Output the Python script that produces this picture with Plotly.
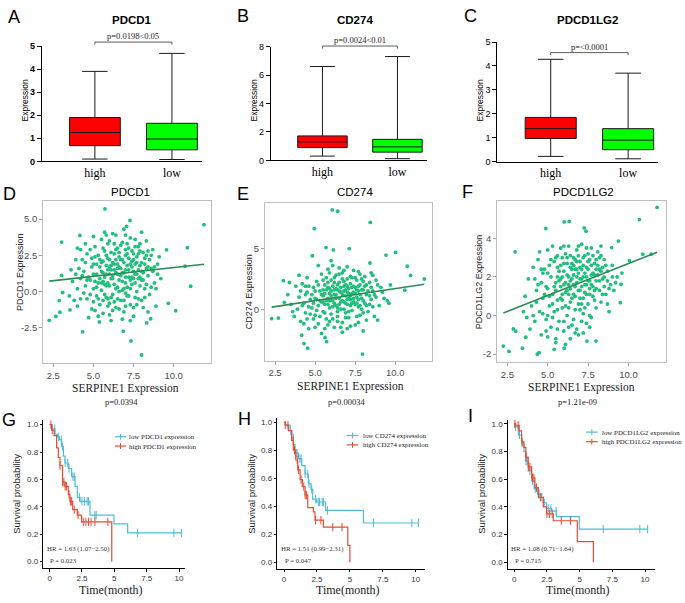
import numpy as np
import plotly.graph_objects as go

W, H = 685, 603
SANS = "Liberation Sans, Arial, sans-serif"
SERIF = "Liberation Serif, Times New Roman, serif"

# ---------------- data: box plots (A-C) ----------------
box_genes = ["PDCD1", "CD274", "PDCD1LG2"]
box_groups = ["high", "low"]
box_min = [[0.10, 0.08], [0.30, 0.12], [0.22, 0.12]]
box_q1 = [[0.68, 0.50], [0.90, 0.58], [0.97, 0.50]]
box_med = [[1.25, 0.97], [1.30, 0.95], [1.38, 0.90]]
box_q3 = [[1.90, 1.65], [1.72, 1.48], [1.85, 1.38]]
box_max = [[3.90, 4.68], [6.60, 7.30], [4.28, 3.70]]
box_pvals = ["p=0.0198<0.05", "p=0.0024<0.01", "p=<0.0001"]
box_ymax = [5, 8, 5]
box_yticks = [[0, 1, 2, 3, 4, 5], [0, 2, 4, 6, 8], [0, 1, 2, 3, 4, 5]]
bracket_y = [5.17, 8.04, 4.56]

# ---------------- data: scatter (D-F) ----------------
scatter_genes = ["PDCD1", "CD274", "PDCD1LG2"]
scatter_p = ["p=0.0394", "p=0.00034", "p=1.21e-09"]
d_points = [
    (5.72, 5.70), (11.89, 4.62), (7.28, 4.91), (7.07, 4.50), (3.02, 3.42), (4.16, 3.87), (2.25, -1.98),
    (2.66, -1.71), (2.91, -1.42), (8.00, -4.37), (7.34, -3.40), (6.86, -2.73), (4.33, -2.77), (5.37, -2.09),
    (10.85, 3.03), (11.06, 0.37), (10.13, -1.32), (9.67, -0.81), (9.56, 2.88), (10.71, 1.75), (3.02, 1.11),
    (3.08, -0.06), (2.87, -0.62), (3.54, -1.26), (8.32, -2.16), (8.57, -1.87),
    (4.1, 1.6), (4.3, 2.2), (4.5, 0.4), (4.6, -0.5), (4.7, 1.0), (4.8, 2.9), (4.9, -1.2), (5.0, 0.2), (5.0, 1.9),
    (5.1, 3.1), (5.2, -0.3), (5.2, 1.2), (5.3, 2.5), (5.3, 0.6), (5.4, -0.9), (5.4, 1.7), (5.5, 3.6), (5.5, 0.1),
    (5.6, 2.1), (5.6, -1.5), (5.7, 1.0), (5.7, 2.8), (5.8, 0.4), (5.8, -0.4), (5.9, 1.5), (5.9, 3.3), (6.0, 2.2),
    (6.0, -0.8), (6.1, 0.9), (6.1, 1.8), (6.2, 4.0), (6.2, -0.2), (6.3, 2.6), (6.3, 0.5), (6.4, 1.3), (6.4, -1.1),
    (6.5, 3.0), (6.5, 1.9), (6.6, 0.0), (6.6, 2.4), (6.7, -0.6), (6.7, 1.1), (6.8, 3.4), (6.8, 0.7), (6.9, 2.0),
    (6.9, -1.4), (7.0, 1.5), (7.0, 2.9), (7.1, 0.3), (7.1, -0.3), (7.2, 2.3), (7.2, 1.0), (7.3, 3.7), (7.3, -0.9),
    (7.4, 1.7), (7.4, 0.5), (7.5, 2.6), (7.5, -1.7), (7.6, 1.2), (7.6, 3.1), (7.7, 0.0), (7.7, 2.0), (7.8, -0.5),
    (7.8, 1.5), (7.9, 2.8), (8.0, 0.8), (8.0, 4.1), (8.1, -1.1), (8.2, 1.9), (8.2, 0.2), (8.3, 2.5), (8.4, 1.1),
    (8.5, -0.2), (8.6, 1.6), (8.7, 2.9), (8.8, 0.6), (8.9, -1.0), (9.0, 1.9), (9.1, 2.4), (9.2, 0.9),
    (3.5, -0.3), (3.6, 1.5), (3.7, 0.7), (3.8, -0.6), (3.9, 2.2), (4.0, 0.2), (4.0, -1.0), (4.2, 0.9), (4.2, 2.9),
    (4.4, -0.1), (4.4, 1.4), (4.6, 2.6), (4.7, -1.8), (4.8, 0.8), (4.9, 1.7), (5.0, -0.7), (5.1, 2.4), (5.2, 0.3),
    (5.4, 0.9), (5.5, 2.0), (5.6, 1.3), (5.7, -0.2), (5.8, 2.5), (5.9, 0.6), (6.0, 1.2), (6.0, 3.5), (6.1, -0.4),
    (6.2, 2.0), (6.3, 1.5), (6.4, 2.9), (6.5, 0.3), (6.5, -0.5), (6.6, 1.7), (6.7, 2.2), (6.8, 1.3), (6.9, 0.2),
    (7.0, 2.5), (7.0, -0.1), (7.1, 1.8), (7.2, 3.0), (7.3, 0.8), (7.4, 2.1), (7.5, 1.4), (7.6, -0.4), (7.7, 2.4),
    (7.8, 0.9), (7.9, 1.8), (8.0, -0.6), (8.1, 2.7), (8.3, 0.5), (8.4, -1.4), (8.5, 2.2), (8.7, 1.4), (8.9, 0.2),
    (6.2, -1.3), (5.3, -1.7), (6.8, -1.9), (7.3, -2.0), (5.9, -1.0), (6.4, 3.9), (6.9, 4.3), (5.7, 4.1), (5.0, 3.8),
    (4.5, 3.3), (8.3, 3.5), (7.6, 3.6),
    (5.5, 1.4), (5.6, 0.7), (5.8, 1.2), (5.9, 2.3), (6.0, 0.4), (6.1, 1.5), (6.2, 0.9), (6.3, 1.9), (6.4, 0.2),
    (6.5, 1.2), (6.6, 2.7), (6.7, 1.6), (6.8, 0.1), (6.9, 1.3), (7.0, 0.6), (7.1, 2.6), (7.2, 1.5), (7.3, 0.2),
    (7.4, 1.0), (7.5, 2.2), (7.6, 0.6), (7.7, 1.2), (7.8, 2.6), (7.9, 0.4), (8.0, 1.4), (8.1, 0.8), (8.2, 2.3),
    (8.3, 1.6), (8.4, 2.8), (8.6, 0.3), (4.3, 1.1), (4.5, 2.0), (4.6, 0.8), (4.8, -0.2), (4.9, 2.3), (5.0, 1.2),
    (5.1, 0.7), (5.2, 1.9), (5.3, -0.5), (5.4, 2.2), (5.5, 0.6), (5.6, 3.0), (5.7, 0.5), (5.8, 1.8), (5.9, -0.5),
    (6.0, 1.7), (6.1, 2.7), (6.2, 1.1), (6.3, -0.7), (6.4, 2.2), (6.5, 1.6), (6.6, 0.8), (6.7, 3.2), (6.8, 2.2),
    (6.9, -0.6), (7.0, 1.0), (7.1, 3.3), (7.2, -0.3), (7.3, 1.9), (7.4, 2.8), (7.5, 0.9), (7.6, 1.9), (7.7, -0.9),
    (7.8, 3.1), (7.9, 1.0), (8.0, 2.0), (8.1, 1.3), (8.2, -0.4), (8.4, 1.7), (8.6, 2.5), (8.8, 1.7), (9.0, 1.2),
    (5.1, -1.3), (5.6, -0.6), (6.0, -1.6), (6.6, -1.2), (7.0, -1.0), (7.5, -1.1), (4.2, -0.5), (3.9, 1.2),
    (4.0, 3.0), (6.3, 3.3), (7.0, 3.9), (7.9, 3.3), (6.1, -2.0), (5.8, 3.9),
]
e_points = [
    (6.07, 8.19), (6.41, 8.08), (8.44, 7.16), (4.95, 6.65), (10.02, 4.68), (9.42, 4.46), (10.75, 3.54),
    (11.81, 2.49), (10.96, 2.78), (7.96, -3.70), (4.54, -3.22), (4.31, -2.84), (4.16, -2.14), (5.72, -2.68),
    (5.62, -2.35), (2.29, -0.78), (2.71, -0.73), (3.02, 2.35), (3.08, 0.57), (4.83, 4.41), (5.68, 5.08),
    (6.14, 4.89), (7.13, 5.00), (10.60, 1.57), (9.60, 0.49), (8.42, 3.81),
    (3.3, 1.2), (3.5, 0.4), (3.7, -0.6), (3.8, 1.9), (3.9, 0.0), (4.0, 1.0), (4.1, -1.0), (4.2, 2.1), (4.3, 0.5),
    (4.4, -0.3), (4.5, 1.4), (4.5, 2.6), (4.6, -1.6), (4.7, 0.8), (4.8, 0.1), (4.9, 1.8), (5.0, -0.5), (5.0, 0.9),
    (5.1, 2.3), (5.2, 0.3), (5.2, -1.2), (5.3, 1.5), (5.4, 0.6), (5.4, 2.9), (5.5, -0.2), (5.5, 1.1), (5.6, 2.0),
    (5.6, 0.4), (5.7, -0.8), (5.7, 1.6), (5.8, 0.9), (5.8, 3.3), (5.9, 0.1), (5.9, 1.3), (6.0, 2.4), (6.0, -0.4),
    (6.1, 0.7), (6.1, 1.9), (6.2, -1.5), (6.2, 1.2), (6.3, 2.8), (6.3, 0.3), (6.4, 1.6), (6.4, -0.6), (6.5, 0.9),
    (6.5, 2.2), (6.6, 0.0), (6.6, 1.4), (6.7, 3.0), (6.7, -1.1), (6.8, 0.6), (6.8, 1.9), (6.9, -0.3), (6.9, 1.1),
    (7.0, 2.5), (7.0, 0.4), (7.1, 1.7), (7.1, -0.7), (7.2, 0.8), (7.2, 2.1), (7.3, -0.1), (7.3, 1.3), (7.4, 3.2),
    (7.4, 0.6), (7.5, 1.8), (7.5, -1.3), (7.6, 1.0), (7.6, 2.4), (7.7, 0.2), (7.7, 1.5), (7.8, -0.5), (7.8, 2.0),
    (7.9, 0.9), (8.0, 1.6), (8.0, -1.8), (8.1, 2.7), (8.1, 0.5), (8.2, 1.2), (8.3, -0.2), (8.4, 2.2), (8.5, 0.8),
    (8.6, 1.5), (8.7, -0.6), (8.8, 1.0), (8.9, 2.0), (9.0, 0.3), (9.2, 1.4), (9.5, 0.7), (9.7, 2.0),
    (4.0, 2.8), (4.3, -1.2), (4.6, 0.2), (4.8, 1.2), (5.1, -0.1), (5.3, 0.7), (5.5, 1.6), (5.6, -1.6), (5.8, 1.8),
    (5.9, -1.0), (6.0, 0.8), (6.1, 3.6), (6.2, 0.5), (6.3, 1.7), (6.4, 0.1), (6.5, 2.9), (6.6, -1.5), (6.7, 0.7),
    (6.8, 2.3), (6.9, 0.5), (7.0, 1.4), (7.1, -0.2), (7.2, 1.1), (7.3, 2.6), (7.5, 0.4), (7.6, -0.6), (7.7, 3.1),
    (7.9, 0.0), (8.0, 2.3), (8.2, -0.9), (8.4, 0.4), (8.6, 2.8), (5.4, -2.0), (6.7, -1.9), (7.2, -1.4), (4.9, -0.8),
    (5.7, 2.6), (6.2, 2.2), (6.9, 1.6), (7.4, 1.9), (6.0, 4.0), (7.0, 3.5), (5.2, 3.6), (8.5, 3.0), (4.4, 1.9),
    (5.5, 0.6), (5.6, 1.3), (5.8, 0.4), (5.9, 1.7), (6.0, 1.1), (6.1, 0.2), (6.2, 1.6), (6.3, 0.9), (6.4, 2.0),
    (6.5, 0.4), (6.6, 1.8), (6.7, 1.2), (6.8, 0.0), (6.9, 2.0), (7.0, 0.8), (7.1, 1.3), (7.2, 0.3), (7.3, 1.8),
    (7.4, 0.9), (7.5, 1.3), (7.6, 0.5), (7.7, 1.9), (7.8, 1.2), (7.9, 1.6), (8.0, 0.7), (8.1, 1.9), (8.2, 0.3),
    (8.3, 1.5), (8.5, 1.8), (8.7, 1.2), (4.2, 0.3), (4.4, 1.2), (4.6, 1.9), (4.7, -0.4), (4.9, 0.5), (5.0, 1.5),
    (5.1, 0.8), (5.2, 2.0), (5.3, -0.6), (5.4, 1.2), (5.5, 2.4), (5.6, -0.3), (5.7, 0.7), (5.8, 2.2), (5.9, 0.7),
    (6.0, 1.5), (6.1, -0.8), (6.2, 2.6), (6.3, 1.2), (6.4, -0.2), (6.5, 1.5), (6.6, 0.6), (6.7, 2.5), (6.8, 1.5),
    (6.9, -0.7), (7.0, 1.9), (7.1, 0.9), (7.2, 2.7), (7.3, 0.5), (7.4, 1.4), (7.5, 2.6), (7.6, 1.6), (7.7, 0.8),
    (7.8, 0.3), (7.9, 2.5), (8.0, -0.3), (8.2, 2.0), (8.4, 1.1), (8.6, 0.2), (8.8, 2.4), (9.1, 1.8), (9.3, 0.9),
    (5.0, -1.5), (5.8, -1.3), (6.4, -1.0), (7.0, -1.6), (7.7, -1.1), (4.5, -0.8), (3.6, -0.2), (3.4, 2.2),
    (4.1, 1.5), (6.5, 3.4), (5.9, 3.0), (7.8, 2.9), (6.8, 3.2), (8.9, -0.9),
]
f_points = [
    (11.78, 5.60), (10.68, 4.97), (6.02, 4.85), (6.33, 4.88), (4.88, 4.51), (7.26, 4.54), (7.37, 4.37),
    (2.98, 3.30), (2.25, -1.58), (2.60, -1.86), (2.87, -0.69), (3.02, -0.81), (3.43, -1.69), (3.64, -1.12),
    (4.36, -2.00), (4.47, -1.92), (5.40, -1.75), (6.02, -1.69), (7.43, -1.32), (7.99, -1.32), (9.50, 0.67),
    (9.54, 1.62), (9.38, 3.86), (8.96, 3.52), (10.89, 3.18), (11.41, 3.18), (10.06, 2.84), (8.30, 3.10),
    (3.5, 0.2), (3.6, 1.0), (3.8, 1.9), (3.9, -0.7), (4.0, 0.5), (4.1, 2.5), (4.2, -0.3), (4.3, 1.3), (4.4, 2.9),
    (4.5, 0.2), (4.6, 1.7), (4.6, -1.0), (4.7, 0.9), (4.8, 2.4), (4.9, -0.2), (5.0, 1.4), (5.0, 3.4), (5.1, 0.5),
    (5.2, 2.0), (5.2, -0.6), (5.3, 1.1), (5.4, 2.8), (5.4, 0.2), (5.5, 1.7), (5.5, -1.2), (5.6, 3.1), (5.6, 0.8),
    (5.7, 2.3), (5.7, -0.3), (5.8, 1.5), (5.8, 3.5), (5.9, 0.4), (5.9, 2.0), (6.0, -0.8), (6.0, 2.7), (6.1, 1.2),
    (6.1, 3.2), (6.2, 0.0), (6.2, 2.1), (6.3, 1.6), (6.3, 3.6), (6.4, 0.7), (6.4, 2.5), (6.5, -0.5), (6.5, 1.9),
    (6.6, 3.0), (6.6, 1.1), (6.7, 2.4), (6.7, 0.3), (6.8, 1.7), (6.8, 3.4), (6.9, -1.0), (6.9, 2.2), (7.0, 0.9),
    (7.0, 2.8), (7.1, 1.5), (7.1, 3.7), (7.2, 0.1), (7.2, 2.0), (7.3, 1.2), (7.3, 3.1), (7.4, -0.4), (7.4, 2.5),
    (7.5, 1.8), (7.5, 0.6), (7.6, 2.9), (7.6, 1.4), (7.7, 3.5), (7.7, -0.1), (7.8, 2.2), (7.8, 1.0), (7.9, 2.7),
    (8.0, 0.4), (8.0, 1.8), (8.1, 3.3), (8.2, 1.3), (8.2, 2.4), (8.3, 0.7), (8.4, 1.9), (8.5, 2.9), (8.6, 1.1),
    (8.7, 2.3), (8.8, 0.2), (8.9, 1.6), (9.0, 2.6), (9.1, 1.3), (9.3, 2.0), (9.6, 2.2),
    (4.2, 1.9), (4.5, 3.3), (4.8, 1.1), (5.1, 2.6), (5.3, -0.1), (5.6, 2.0), (5.9, 1.1), (6.0, 3.6), (6.2, 1.3),
    (6.3, 0.4), (6.4, 1.8), (6.5, 2.7), (6.6, -0.2), (6.7, 1.5), (6.8, 2.8), (6.9, 0.6), (7.0, 1.9), (7.1, 2.4),
    (7.2, 0.9), (7.3, 2.2), (7.4, 1.1), (7.5, 3.2), (7.6, 0.0), (7.7, 1.6), (7.9, 1.3), (8.1, 2.1), (8.3, 3.6),
    (8.5, 1.5), (8.7, 0.6), (5.0, -1.1), (5.5, -1.4), (6.1, -1.5), (6.8, -0.7), (7.2, -0.9), (4.7, 2.2), (5.8, 2.6),
    (6.6, 2.1), (7.0, 0.3), (8.0, 2.9), (6.4, -1.2),
    (5.5, 1.3), (5.6, 2.5), (5.8, 1.9), (5.9, 0.8), (6.0, 2.3), (6.1, 1.7), (6.2, 2.7), (6.3, 2.0), (6.4, 1.4),
    (6.5, 2.4), (6.6, 1.6), (6.7, 2.9), (6.8, 2.0), (6.9, 1.3), (7.0, 2.5), (7.1, 1.9), (7.2, 2.6), (7.3, 1.6),
    (7.4, 2.0), (7.5, 2.4), (7.6, 1.8), (7.7, 2.6), (7.8, 1.5), (7.9, 2.1), (8.0, 1.4), (8.1, 2.6), (8.2, 1.8),
    (8.3, 2.3), (8.5, 2.0), (8.7, 1.8), (4.3, 0.7), (4.4, 1.6), (4.6, 2.4), (4.7, 0.1), (4.9, 1.5), (5.0, 2.2),
    (5.1, 1.0), (5.2, 2.9), (5.3, 0.6), (5.4, 1.5), (5.5, 3.0), (5.6, 0.3), (5.7, 1.8), (5.8, 0.9), (5.9, 3.0),
    (6.0, 1.6), (6.1, 0.5), (6.2, 3.0), (6.3, 1.1), (6.4, 3.1), (6.5, 0.9), (6.6, 2.6), (6.7, 1.0), (6.8, 2.4),
    (6.9, 3.1), (7.0, 1.3), (7.1, 0.6), (7.2, 3.0), (7.3, 0.4), (7.4, 1.6), (7.5, 2.8), (7.6, 1.1), (7.7, 2.1),
    (7.8, 3.1), (7.9, 0.8), (8.0, 2.4), (8.2, 3.0), (8.4, 1.1), (8.6, 2.6), (8.8, 1.4), (9.0, 2.0), (9.2, 1.7),
    (4.9, -0.8), (5.6, -0.7), (6.3, -0.6), (6.7, -0.9), (7.1, -0.3), (7.6, -0.6), (4.1, 0.0), (3.7, -0.1),
    (5.3, 3.6), (6.9, 3.6), (7.4, 3.5), (8.4, 2.5), (6.0, -0.3), (5.0, 0.0),
]
scatter_points = [d_points, e_points, f_points]
# fitted regression line (intercept, slope)
fit_intercept = [0.456, -0.288, -0.605]
fit_slope = [0.120, 0.199, 0.330]

# ---------------- data: Kaplan-Meier (G-I) ----------------
km_genes = ["PDCD1", "CD274", "PDCD1LG2"]
km_hr = ["HR = 1.63 (1.07\u22122.50)", "HR = 1.51 (0.99\u22122.31)", "HR = 1.08 (0.71\u22121.64)"]
km_p = ["P = 0.023", "P = 0.047", "P = 0.715"]
low_t = [
    [0, 0.2, 0.41, 0.6, 0.75, 0.93, 1.06, 1.19, 1.44, 1.7, 1.96, 2.14, 2.35, 3.12, 4.97, 6.03, 10.2],
    [0, 0.08, 0.46, 0.58, 0.71, 0.84, 1.09, 1.34, 1.6, 1.85, 2.05, 2.18, 2.48, 3.16, 6.03, 10.2],
    [0, 0.05, 0.31, 0.56, 0.74, 0.89, 1.07, 1.33, 1.53, 1.79, 2.09, 2.22, 2.47, 2.86, 3.24, 4.97, 10.2],
]
low_s = [
    [1.0, 0.97, 0.93, 0.91, 0.89, 0.84, 0.77, 0.72, 0.68, 0.62, 0.55, 0.47, 0.44, 0.34, 0.275, 0.21, 0.21],
    [1.0, 0.98, 0.94, 0.89, 0.84, 0.78, 0.74, 0.69, 0.63, 0.56, 0.52, 0.45, 0.43, 0.37, 0.28, 0.28],
    [1.0, 0.98, 0.92, 0.86, 0.80, 0.73, 0.66, 0.59, 0.53, 0.49, 0.47, 0.43, 0.39, 0.37, 0.33, 0.24, 0.24],
]
high_t = [
    [0, 0.15, 0.34, 0.54, 0.67, 0.8, 1.0, 1.19, 1.44, 1.57, 1.78, 2.14, 2.47, 4.8],
    [0, 0.1, 0.33, 0.58, 0.71, 0.89, 1.04, 1.22, 1.39, 1.6, 1.8, 2.23, 2.35, 2.99, 4.84, 5.0],
    [0, 0.1, 0.38, 0.56, 0.74, 0.89, 1.07, 1.33, 1.58, 1.84, 2.22, 2.47, 2.98, 4.82, 6.05],
]
high_s = [
    [1.0, 0.96, 0.92, 0.83, 0.76, 0.70, 0.58, 0.55, 0.49, 0.44, 0.38, 0.34, 0.29, 0.0],
    [1.0, 0.98, 0.94, 0.87, 0.80, 0.73, 0.66, 0.59, 0.54, 0.48, 0.39, 0.36, 0.30, 0.25, 0.12, 0.0],
    [1.0, 0.99, 0.95, 0.87, 0.83, 0.76, 0.69, 0.61, 0.54, 0.47, 0.40, 0.35, 0.30, 0.15, 0.0],
]
low_censor = [
    [0.4, 0.7, 0.9, 1.0, 1.2, 1.4, 1.5, 1.8, 1.9, 2.3, 2.5, 2.7, 2.9, 3.0, 3.5, 3.6, 6.8, 9.6, 10.2],
    [0.5, 0.7, 0.9, 1.0, 1.2, 1.3, 1.6, 1.8, 1.9, 2.1, 2.4, 2.6, 2.7, 2.9, 3.0, 3.3, 6.8, 9.7, 10.2],
    [0.1, 0.4, 0.6, 0.9, 1.0, 1.2, 1.4, 1.6, 1.9, 2.1, 2.3, 2.6, 2.8, 3.2, 6.8, 9.6, 10.2],
]
high_censor = [
    [0.1, 0.2, 0.8, 1.0, 1.1, 1.2, 1.3, 1.5, 1.6, 1.7, 1.9, 2.2, 2.6, 2.8, 3.0, 3.2, 3.5, 4.5],
    [0.1, 0.3, 0.7, 0.8, 1.0, 1.1, 1.3, 1.5, 1.6, 1.7, 2.4, 2.8, 3.7, 4.4],
    [0.05, 0.3, 0.6, 0.9, 1.1, 1.2, 1.4, 1.5, 1.7, 2.0, 2.5, 2.7, 2.9, 3.6, 4.3],
]

# ---------------- styling ----------------
RED_BOX, GREEN_BOX = "#FF0000", "#00FF00"
PT_COLOR, FIT_COLOR = "#20BF7C", "#2E8B57"
KM_LOW, KM_HIGH = "#4DBBD5", "#E64B35"


def xd(p0, p1):
    return [p0 / W, p1 / W]


def yd(top, bottom):
    return [1 - bottom / H, 1 - top / H]


def ann(text, x, y, size, family=SANS, bold=False, angle=0, xanchor="center", yanchor="middle", color="black"):
    return dict(text=text, x=x / W, y=1 - y / H, xref="paper", yref="paper", showarrow=False,
                textangle=angle, xanchor=xanchor, yanchor=yanchor, borderpad=0,
                font=dict(size=size, family=family, color=color, weight="bold" if bold else "normal"))


fig = go.Figure()
layout = dict(width=W, height=H, margin=dict(l=0, r=0, t=0, b=0), paper_bgcolor="white",
              plot_bgcolor="white", showlegend=False, boxmode="overlay")
annotations, shapes = [], []


def axid(i):
    return "" if i == 1 else str(i)


# ---- box panels A-C ----
box_px = [(41.7, 202.0, 41.7, 159.0), (270.7, 426.7, 42.3, 158.0), (497.3, 658.3, 37.7, 159.3)]
box_title_x = [132, 355, 587]
box_ytitle_x = [25, 254, 480]
box_letter = [("A", 14, 12), ("B", 243, 11), ("C", 470, 11)]
for k in range(3):
    i = k + 1
    xa, ya = "x" + axid(i), "y" + axid(i)
    for g, col in enumerate([RED_BOX, GREEN_BOX]):
        fig.add_trace(go.Box(
            x=[box_groups[g]], q1=[box_q1[k][g]], median=[box_med[k][g]], q3=[box_q3[k][g]],
            lowerfence=[box_min[k][g]], upperfence=[box_max[k][g]], orientation="v",
            fillcolor=col, line=dict(color="#1a1a1a", width=1), width=0.66, whiskerwidth=0.5,
            boxpoints=False, hoverinfo="skip", xaxis=xa, yaxis=ya))
    x0, x1, yt, yb = box_px[k]
    layout["xaxis" + axid(i)] = dict(domain=xd(x0, x1), anchor=ya, type="category",
                                     categoryorder="array", categoryarray=box_groups,
                                     range=[-0.69, 1.39], showline=True, linecolor="black", linewidth=1,
                                     ticks="", showgrid=False, zeroline=False,
                                     tickfont=dict(family=SERIF, size=12, color="black"))
    layout["yaxis" + axid(i)] = dict(domain=yd(yt, yb), anchor=xa, range=[0, box_ymax[k]],
                                     tickvals=box_yticks[k], showline=True, linecolor="black", linewidth=1,
                                     ticks="outside", ticklen=4, tickcolor="black", showgrid=False,
                                     zeroline=False,
                                     tickfont=dict(family=SANS, size=9, color="black",
                                                   weight="bold" if k == 0 else "normal"))
    # significance bracket
    yb_frac = bracket_y[k] / box_ymax[k]
    tick = 0.022
    shp = dict(type="line", xref=xa, yref=ya + " domain", line=dict(color="#333333", width=0.8))
    shapes.append(dict(shp, x0=0, x1=1, y0=yb_frac, y1=yb_frac))
    shapes.append(dict(shp, x0=0, x1=0, y0=yb_frac - tick, y1=yb_frac))
    shapes.append(dict(shp, x0=1, x1=1, y0=yb_frac - tick, y1=yb_frac))
    annotations.append(dict(text=box_pvals[k], x=0.5, xref=xa, y=yb_frac, yref=ya + " domain",
                            yanchor="bottom", showarrow=False, yshift=0, borderpad=0,
                            font=dict(family=SERIF, size=8.5, color="#222")))
    annotations.append(ann(box_genes[k], box_title_x[k], 15, 11.5, bold=True))
    annotations.append(ann("Expression", box_ytitle_x[k], 97, 8.5, angle=-90))
    annotations.append(ann(box_letter[k][0], box_letter[k][1], box_letter[k][2], 18))

# ---- scatter panels D-F ----
sc_px = [(43.3, 210.7, 199.3, 364.3), (265.0, 432.3, 201.7, 361.7), (497.3, 665.7, 199.0, 363.3)]
sc_yrange = [[-4.94, 6.25], [-4.25, 8.73], [-2.42, 5.95]]
sc_yticks = [[-2.5, 0, 2.5, 5.0], [0, 5], [-2, 0, 2, 4]]
sc_yticktext = [["-2.5", "0.0", "2.5", "5.0"], ["0", "5"], ["-2", "0", "2", "4"]]
sc_title_x = [130, 355, 583]
sc_ytitle = [(20.5, 272), (249, 292), (479, 282)]
sc_center = [125, 350, 581]
sc_xtitle_y = [389.5, 387.5, 389]
sc_letter = [("D", 9, 192), ("E", 243, 192), ("F", 467, 190)]
for k in range(3):
    i = k + 4
    xa, ya = "x" + axid(i), "y" + axid(i)
    pts = scatter_points[k]
    sx = np.array([p[0] for p in pts])
    sy = np.array([p[1] for p in pts])
    fig.add_trace(go.Scatter(x=sx, y=sy, mode="markers", marker=dict(color=PT_COLOR, size=3.8),
                             hoverinfo="skip", xaxis=xa, yaxis=ya))
    lx = np.array([sx.min(), sx.max()])
    fig.add_trace(go.Scatter(x=lx, y=fit_intercept[k] + fit_slope[k] * lx, mode="lines",
                             line=dict(color=FIT_COLOR, width=1.6), hoverinfo="skip", xaxis=xa, yaxis=ya))
    x0, x1, yt, yb = sc_px[k]
    common = dict(showline=True, mirror=True, linecolor="#BDBDBD", linewidth=1.2, ticks="outside",
                  ticklen=3, tickcolor="#9E9E9E", showgrid=False, zeroline=False,
                  tickfont=dict(family=SANS, size=9.5, color="#4D4D4D"))
    layout["xaxis" + axid(i)] = dict(common, domain=xd(x0, x1), anchor=ya, range=[1.876, 12.31],
                                     tickvals=[2.5, 5.0, 7.5, 10.0], ticktext=["2.5", "5.0", "7.5", "10.0"])
    layout["yaxis" + axid(i)] = dict(common, domain=yd(yt, yb), anchor=xa, range=sc_yrange[k],
                                     tickvals=sc_yticks[k], ticktext=sc_yticktext[k])
    annotations.append(ann(scatter_genes[k], sc_title_x[k], 190, 11.5))
    annotations.append(ann(scatter_genes[k] + " Expression", sc_ytitle[k][0], sc_ytitle[k][1], 9, angle=-90,
                           color="#222"))
    annotations.append(ann("SERPINE1 Expression", sc_center[k], sc_xtitle_y[k], 11.5, family=SERIF,
                           color="#222"))
    annotations.append(ann(scatter_p[k], sc_center[k] - 4, 403.5, 8.5, family=SERIF, color="#222"))
    annotations.append(ann(sc_letter[k][0], sc_letter[k][1], sc_letter[k][2], 18))

# ---- Kaplan-Meier panels G-I ----
km_px = [(43.3, 185.0, 421.7, 572.7), (277.3, 425.0, 420.0, 573.3), (507.7, 655.0, 421.7, 573.3)]
km_xrange = [[-0.49, 10.46], [-0.51, 10.7], [-0.5, 10.76]]
km_yrange = [[-0.048, 1.036], [-0.047, 1.03], [-0.047, 1.03]]
km_ytitle_x = [17, 252, 482]
km_xtitle_x = [111, 348, 578]
km_hr_pos = [(46, 49), (280, 284), (510, 514)]
km_leg = [(115, 126, 128, 439, 448.5), (346.7, 358.3, 362.3, 437.7, 447.3), (586, 597.7, 601, 434.3, 444)]
km_letter = [("G", 9, 422), ("H", 244, 421), ("I", 470, 418)]


def step_value(times, surv, t):
    idx = np.searchsorted(np.array(times), np.array(t), side="right") - 1
    return np.array(surv)[idx]


for k in range(3):
    i = k + 7
    xa, ya = "x" + axid(i), "y" + axid(i)
    for tt, ss, cc, col in [(low_t[k], low_s[k], low_censor[k], KM_LOW),
                            (high_t[k], high_s[k], high_censor[k], KM_HIGH)]:
        fig.add_trace(go.Scatter(x=tt, y=ss, mode="lines", line=dict(color=col, width=1.2, shape="hv"),
                                 hoverinfo="skip", xaxis=xa, yaxis=ya))
        fig.add_trace(go.Scatter(x=cc, y=step_value(tt, ss, cc), mode="markers",
                                 marker=dict(symbol="line-ns-open", size=6, color=col,
                                             line=dict(color=col, width=1)),
                                 hoverinfo="skip", xaxis=xa, yaxis=ya))
    x0, x1, yt, yb = km_px[k]
    common = dict(showline=True, linecolor="black", linewidth=1, ticks="outside", ticklen=2.5,
                  tickcolor="black", showgrid=False, zeroline=False,
                  tickfont=dict(family=SANS, size=8, color="#333"))
    layout["xaxis" + axid(i)] = dict(common, domain=xd(x0, x1), anchor=ya, range=km_xrange[k],
                                     tickvals=[0, 2.5, 5, 7.5, 10], ticktext=["0", "2.5", "5", "7.5", "10"])
    layout["yaxis" + axid(i)] = dict(common, domain=yd(yt, yb), anchor=xa, range=km_yrange[k],
                                     tickvals=[0, 0.2, 0.4, 0.6, 0.8, 1.0], tickformat=".1f")
    annotations.append(ann("Survival probability", km_ytitle_x[k], 497, 9.5, angle=-90, color="#222"))
    annotations.append(ann("Time(month)", km_xtitle_x[k], 603, 12, family=SERIF, color="#222",
                           yanchor="bottom"))
    annotations.append(ann(km_hr[k], km_hr_pos[k][0], 553.5, 6.8, family=SERIF, xanchor="left", color="#333"))
    annotations.append(ann(km_p[k], km_hr_pos[k][1], 564.5, 6.8, family=SERIF, xanchor="left", color="#333"))
    annotations.append(ann(km_letter[k][0], km_letter[k][1], km_letter[k][2], 18))
    lx0, lx1, tx, ly1, ly2 = km_leg[k]
    for ly, col, lab in [(ly1, KM_LOW, "low %s expression" % km_genes[k]),
                         (ly2, KM_HIGH, "high %s expression" % km_genes[k])]:
        shapes.append(dict(type="line", xref="paper", yref="paper", x0=lx0 / W, x1=lx1 / W,
                           y0=1 - ly / H, y1=1 - ly / H, line=dict(color=col, width=1.2)))
        xm = (lx0 + lx1) / 2
        shapes.append(dict(type="line", xref="paper", yref="paper", x0=xm / W, x1=xm / W,
                           y0=1 - (ly - 3) / H, y1=1 - (ly + 3) / H, line=dict(color=col, width=1)))
        annotations.append(ann(lab, tx, ly, 6.9, family=SERIF, xanchor="left", color="#222"))

layout["annotations"] = annotations
layout["shapes"] = shapes
fig.update_layout(**layout)
fig.write_html("out.html", config={"displayModeBar": False},
               post_script="document.body.style.margin='0';")
